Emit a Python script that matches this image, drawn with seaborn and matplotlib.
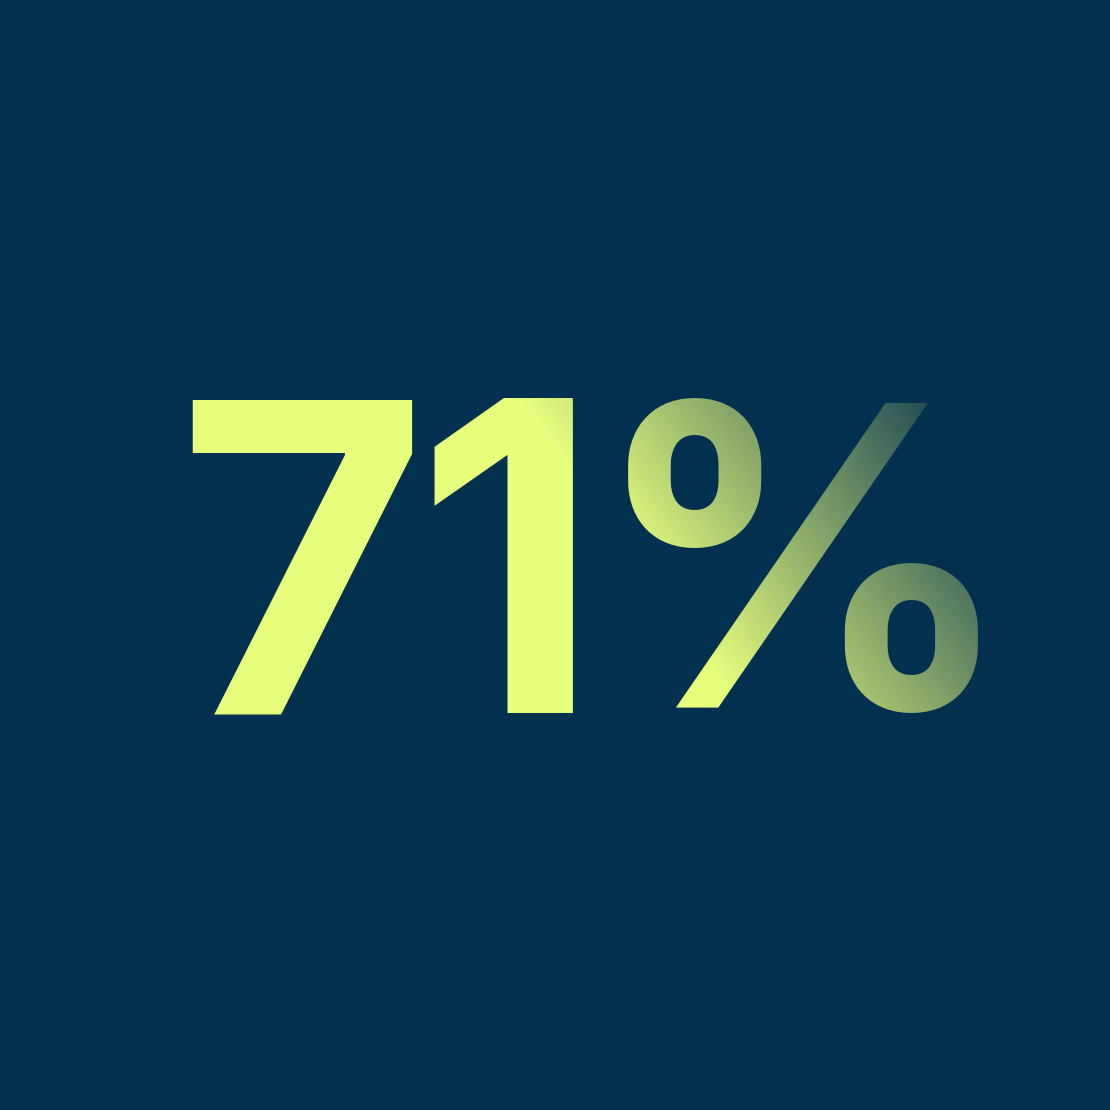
import numpy as np
import matplotlib
matplotlib.use("Agg")
import matplotlib.pyplot as plt
import seaborn as sns
from matplotlib.textpath import TextPath
from matplotlib.font_manager import FontProperties
from matplotlib.colors import to_rgb

# ---- data ----
value = 71
suffix = "%"
label_chars = list(f"{value}{suffix}")

# ---- style ----
bg_color = "#04304F"
text_color = "#E8FF7E"
font_family = "Inter"
# ink boxes (left, top, right, bottom) for each glyph in pixel layout coordinates
glyph_boxes = [(192, 399, 406, 713), (434, 399, 571, 713), (628, 390, 918, 722)]
glyph_scales = [1.0, 1.0, 0.95]

sns.set_theme(style="white")
plt.rcParams['font.family'] = [font_family, 'DejaVu Sans']

W = H = 1110
DPI = 100
fig = plt.figure(figsize=(W / DPI, H / DPI), dpi=DPI)
fig.patch.set_facecolor(bg_color)
ax = fig.add_axes([0, 0, 1, 1])
ax.set_xlim(0, W)
ax.set_ylim(H, 0)
ax.axis("off")
ax.set_facecolor(bg_color)

fp = FontProperties(family=[font_family, "DejaVu Sans"], weight="bold")
for ch, (l, t, r, b), k in zip(label_chars, glyph_boxes, glyph_scales):
    ext = TextPath((0, 0), ch, size=100, prop=fp).get_extents()
    s = k * (b - t) / ext.height          # pixels per TextPath unit
    size_px = 100 * s
    x = l - ext.x0 * s
    cy = 0.5 * (t + b)
    y_base = cy + (ext.height * s) / 2 + ext.y0 * s
    ax.text(x, y_base, ch, fontproperties=fp, fontsize=size_px * 72 / DPI,
            color=text_color, ha="left", va="baseline", zorder=2)

# gradient overlay: background colour with alpha rising toward the top-right,
# invisible over the background, fading the glyphs
yy, xx = np.mgrid[0:H, 0:W] + 0.5
tt = np.clip((xx - 0.7 * yy - 240) / 470.0, 0, 1)
overlay = np.zeros((H, W, 4))
overlay[..., :3] = to_rgb(bg_color)
overlay[..., 3] = tt
ax.imshow(overlay, extent=(0, W, H, 0), interpolation="bilinear", zorder=3)

fig.savefig("out.png", dpi=DPI, facecolor=bg_color)
